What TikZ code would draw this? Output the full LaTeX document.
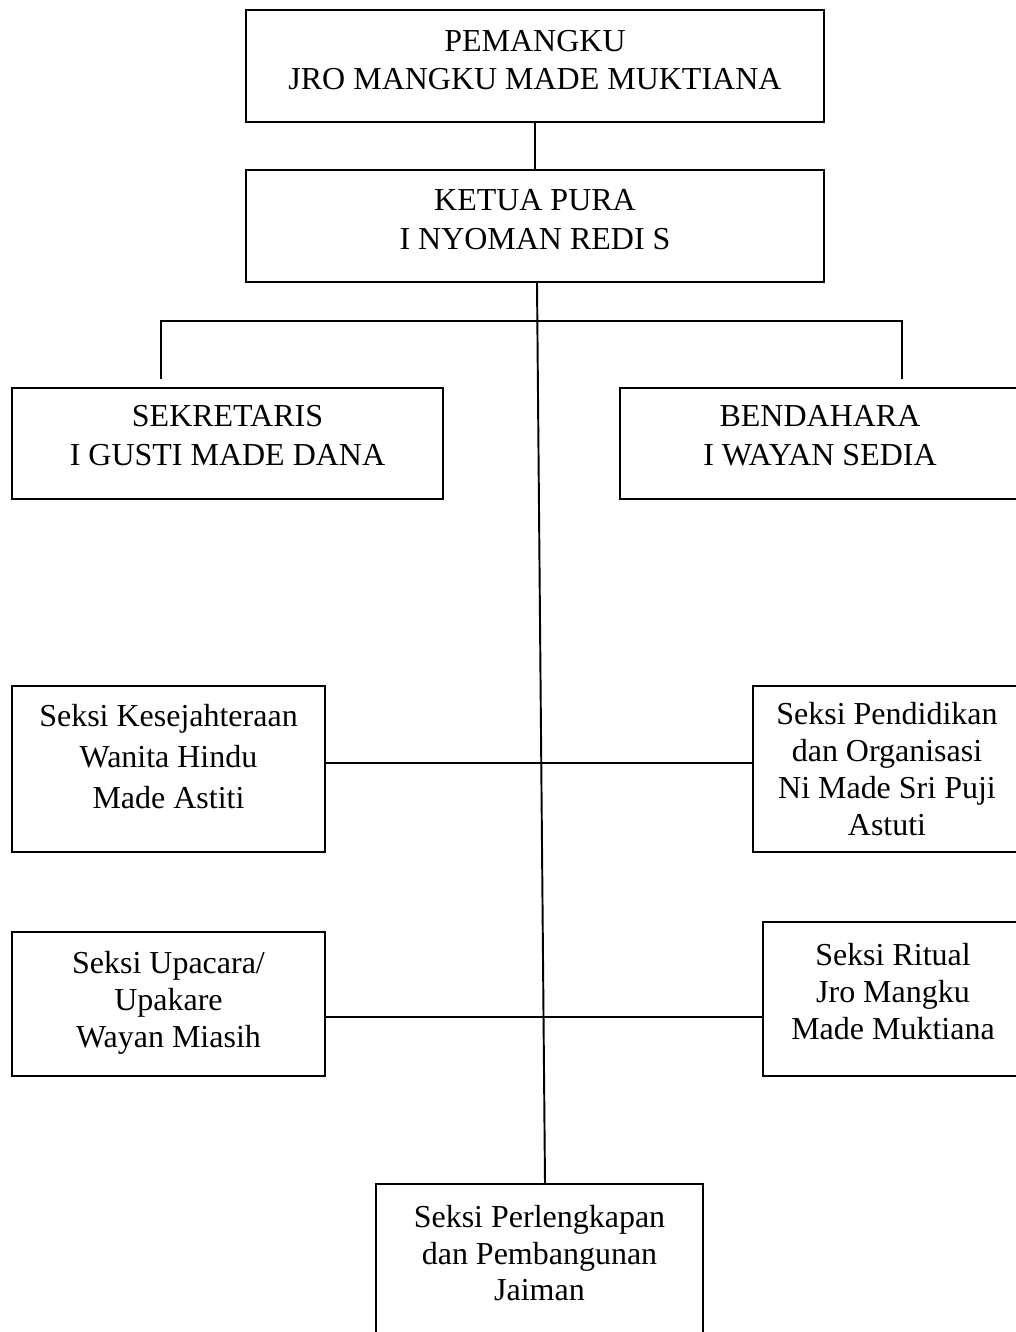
\documentclass[tikz,border=0pt]{standalone}
\usepackage{fontspec}
\setmainfont{Liberation Serif}
\usetikzlibrary{positioning}

\begin{document}
\begin{tikzpicture}[
node distance=0.92cm,
headbox/.style={draw, line width=1.1pt, align=center, font=\fontsize{18.2}{22}\selectfont, minimum width=11.56cm, minimum height=2.24cm, text depth=0.25cm},
staffbox/.style={draw, line width=1.1pt, align=center, font=\fontsize{18.2}{22.5}\selectfont, minimum height=2.22cm, text depth=0.33cm},
seksibox/.style={draw, line width=1.1pt, align=center, font=\fontsize{18.2}{21}\selectfont},
line/.style={line width=1.1pt}
]
\clip (0,0) rectangle (20.32,-26.64);

\node[headbox] (pemangku) at (10.70,-1.32) {PEMANGKU\\JRO MANGKU MADE MUKTIANA};
\node[headbox, below=of pemangku] (ketua) {KETUA PURA\\I NYOMAN REDI S};

\node[staffbox, minimum width=8.62cm] (sekretaris) at (4.55,-8.87) {SEKRETARIS\\I GUSTI MADE DANA};
\node[staffbox, minimum width=8.0cm] (bendahara) at (16.40,-8.87) {BENDAHARA\\I WAYAN SEDIA};

\node[seksibox, font=\fontsize{18.2}{23.3}\selectfont, minimum width=6.26cm, minimum height=3.32cm, text depth=0.5cm] (kesejahteraan) at (3.37,-15.38) {Seksi Kesejahteraan\\Wanita Hindu\\Made Astiti};
\node[seksibox, minimum width=5.36cm, minimum height=3.32cm] (pendidikan) at (17.74,-15.38) {Seksi Pendidikan\\dan Organisasi\\Ni Made Sri Puji\\Astuti};
\node[seksibox, minimum width=6.26cm, minimum height=2.88cm, text depth=0.2cm] (upacara) at (3.37,-20.08) {Seksi Upacara/\\Upakare\\Wayan Miasih};
\node[seksibox, minimum width=5.20cm, minimum height=3.08cm, text depth=0.32cm] (ritual) at (17.86,-19.98) {Seksi Ritual\\Jro Mangku\\Made Muktiana};
\node[seksibox, anchor=north, minimum width=6.54cm, inner ysep=0.42cm, text depth=2.4cm] (perlengkapan) at (10.79,-23.66) {Seksi Perlengkapan\\dan Pembangunan\\Jaiman};

\coordinate (barL) at (3.22,-6.42);
\coordinate (barR) at (18.04,-6.42);
\coordinate (midA) at (10.80,-15.26);
\coordinate (midB) at (10.86,-20.34);

\draw[line] (pemangku) -- (ketua);
\draw[line] ([xshift=0.04cm]ketua.south) -- ([xshift=0.11cm]perlengkapan.north);
\draw[line, shorten <=0.16cm, shorten >=0.16cm] (sekretaris.north -| barL) -- (barL) -- (barR) -- (bendahara.north -| barR);
\draw[line] (kesejahteraan.east |- midA) -- (pendidikan.west |- midA);
\draw[line] (upacara.east |- midB) -- (ritual.west |- midB);
\end{tikzpicture}
\end{document}
